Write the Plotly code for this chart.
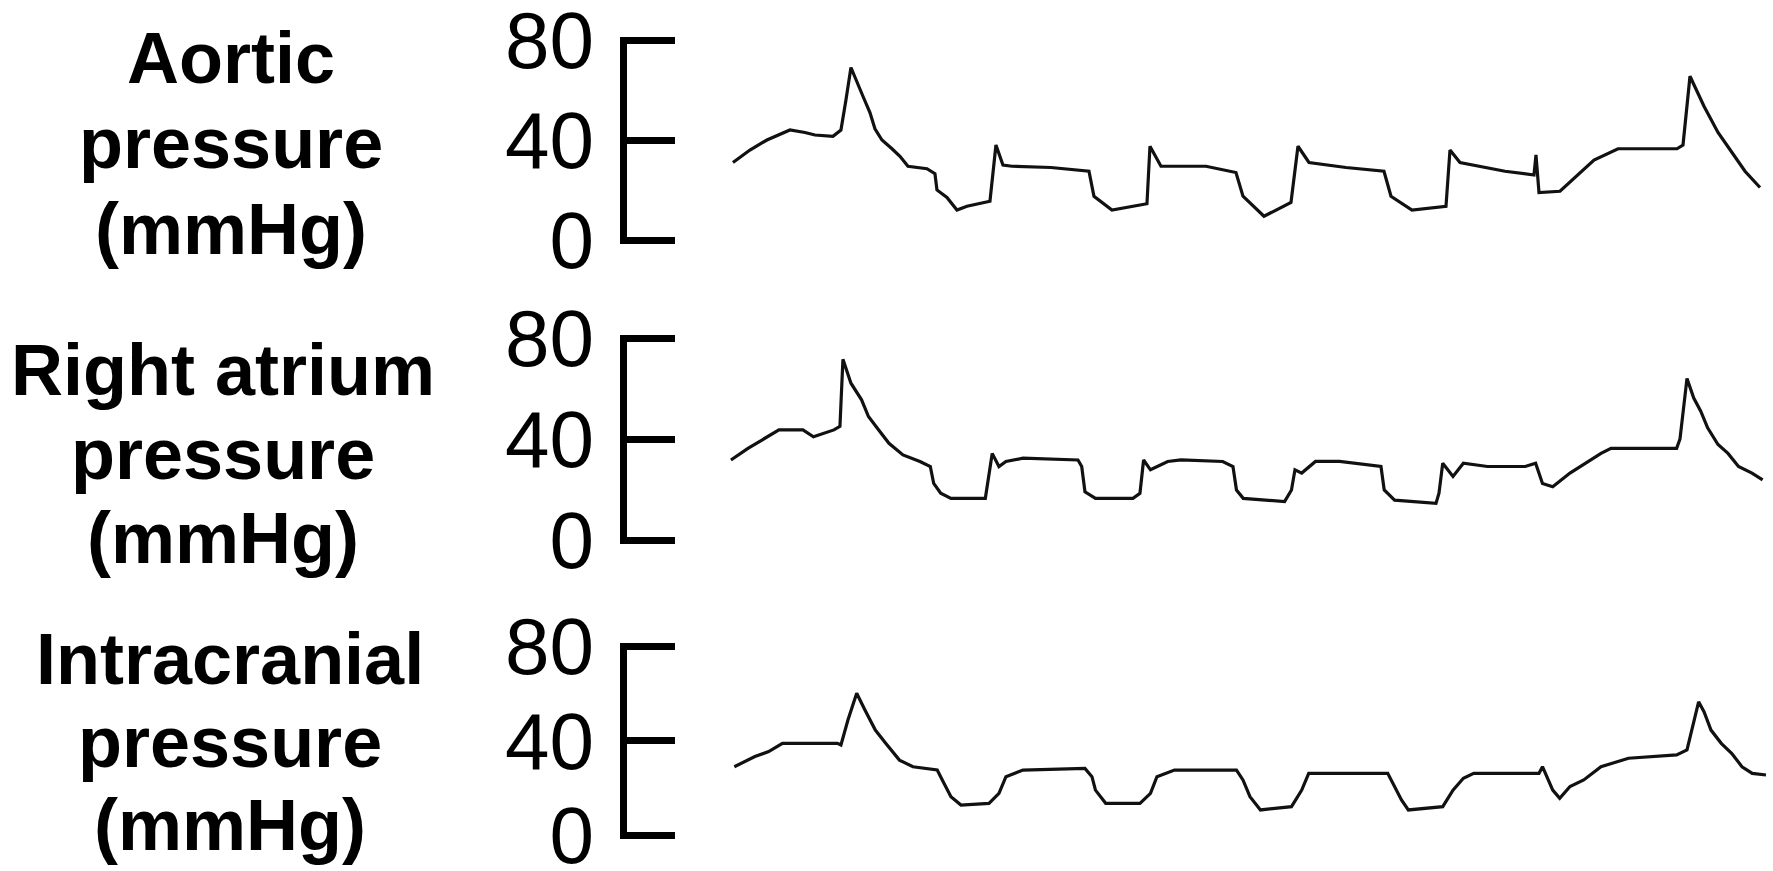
import plotly.graph_objects as go

# ---------------- data ----------------
tick_vals = [0, 40, 80]
tick_text = ["0", "40", "80"]

panel_titles = [
    ["Aortic", "pressure", "(mmHg)"],
    ["Right atrium", "pressure", "(mmHg)"],
    ["Intracranial", "pressure", "(mmHg)"],
]

# time (s) and pressure (mmHg)
aortic_t = [0.000, 0.136, 0.272, 0.360, 0.456, 0.576, 0.656, 0.800, 0.864, 0.904,
            0.944, 1.040, 1.096, 1.136, 1.192, 1.272, 1.336, 1.400, 1.552, 1.616,
            1.632, 1.712, 1.792, 1.872, 2.056, 2.104, 2.160, 2.232, 2.544, 2.848,
            2.888, 3.032, 3.312, 3.336, 3.424, 3.784, 4.024, 4.080, 4.248, 4.464,
            4.520, 4.608, 4.904, 5.208, 5.264, 5.432, 5.704, 5.736, 5.816, 6.176,
            6.408, 6.424, 6.448, 6.616, 6.888, 7.080, 7.552, 7.600, 7.656, 7.768,
            7.880, 7.992, 8.096, 8.216]
aortic_p = [31, 36, 40, 42, 44, 43, 42, 41.5, 44, 56,
            69, 57.5, 51, 44.5, 40, 36.5, 33.5, 29.5, 28.5, 26.5,
            20, 17, 12, 13.5, 15.5, 38, 30, 29.5, 29, 27.5,
            17.5, 12, 14.5, 37.5, 29.5, 29.5, 27, 17.5, 9.5, 15,
            37.5, 31, 29, 27.5, 17.5, 12, 13.5, 36, 31, 27.5,
            26, 34, 19, 19.5, 32, 36.5, 36.5, 38, 65.5, 53.5,
            43, 35, 27.5, 21]

ra_t = [-0.016, 0.120, 0.232, 0.368, 0.560, 0.644, 0.808, 0.856, 0.880, 0.944,
        1.029, 1.084, 1.166, 1.248, 1.360, 1.496, 1.579, 1.606, 1.662, 1.744,
        2.019, 2.074, 2.128, 2.184, 2.320, 2.760, 2.790, 2.816, 2.900, 3.200,
        3.256, 3.285, 3.340, 3.478, 3.584, 3.918, 4.000, 4.028, 4.082, 4.413,
        4.468, 4.496, 4.550, 4.660, 4.853, 5.184, 5.210, 5.293, 5.624, 5.648,
        5.678, 5.760, 5.843, 6.036, 6.338, 6.421, 6.476, 6.558, 6.696, 6.806,
        6.944, 7.024, 7.549, 7.576, 7.632, 7.686, 7.742, 7.797, 7.880, 7.960,
        8.044, 8.152, 8.237]
ra_p = [31.7, 36.3, 39.6, 43.6, 43.6, 40.9, 43.6, 45.0, 71.6, 62.1,
        55.5, 48.9, 43.6, 38.3, 33.7, 31.1, 29.1, 22.4, 18.5, 16.5,
        16.5, 34.3, 29.1, 31.1, 32.4, 31.7, 29.1, 19.1, 16.5, 16.5,
        18.5, 31.7, 27.8, 31.1, 31.7, 31.1, 29.1, 19.8, 16.5, 15.2,
        19.8, 27.8, 26.5, 31.1, 31.1, 29.1, 19.8, 15.8, 14.5, 18.5,
        30.4, 25.2, 30.4, 29.1, 29.1, 30.4, 22.4, 21.1, 26.5, 29.8,
        34.3, 36.3, 36.3, 40.0, 64.0, 56.2, 51.0, 44.4, 37.8, 34.3,
        29.1, 26.5, 23.8]

icp_t = [0.011, 0.176, 0.286, 0.396, 0.836, 0.864, 0.920, 0.990, 1.056, 1.139,
         1.222, 1.332, 1.440, 1.634, 1.688, 1.744, 1.824, 2.048, 2.128, 2.184,
         2.320, 2.816, 2.872, 2.900, 2.982, 3.256, 3.340, 3.392, 3.532, 4.028,
         4.080, 4.136, 4.220, 4.468, 4.550, 4.606, 5.238, 5.293, 5.348, 5.403,
         5.678, 5.760, 5.843, 5.926, 6.448, 6.476, 6.558, 6.614, 6.696, 6.806,
         6.944, 7.164, 7.549, 7.632, 7.686, 7.725, 7.768, 7.824, 7.906, 7.989,
         8.072, 8.154, 8.264]
icp_p = [28.9, 33.2, 35.3, 38.8, 38.8, 38.1, 48.7, 60.0, 52.9, 44.4,
         38.8, 31.7, 28.9, 27.5, 21.9, 16.2, 12.7, 13.4, 17.6, 24.7,
         27.5, 28.2, 24.7, 19.0, 13.4, 13.4, 17.6, 24.7, 27.5, 27.5,
         23.3, 16.2, 10.6, 12.0, 19.0, 26.1, 26.1, 20.5, 14.8, 10.6,
         12.0, 19.0, 24.0, 26.1, 26.1, 28.9, 19.0, 15.5, 20.5, 23.3,
         28.9, 32.5, 33.9, 36.0, 47.3, 56.4, 52.2, 44.4, 38.8, 34.6,
         28.9, 26.1, 25.4]

series = [(aortic_t, aortic_p), (ra_t, ra_p), (icp_t, icp_p)]

# ---------------- layout constants ----------------
W, H = 1773, 871
x_domain = [0.3536, 1.0]
x_range = [-0.848, 8.32]
# pixel rows (from top) where 80 and 0 mmHg sit in each panel
y_px = [(40, 240), (338, 540), (646, 835)]
pad_px = 3.5          # extend axis so the bracket corners close
title_x = [230.5, 223, 230]            # px, centre of label block
title_mid = [[58, 143, 229], [370, 454, 538], [659, 742, 825]]  # px from top

fig = go.Figure()
for i, (t, p) in enumerate(series):
    sfx = "" if i == 0 else str(i + 1)
    top, bot = y_px[i]
    per = (bot - top) / 80.0
    pad = pad_px / per
    dom = [1 - (bot + pad_px) / H, 1 - (top - pad_px) / H]
    fig.add_trace(go.Scatter(
        x=t, y=p, mode="lines",
        line=dict(color="#111111", width=3.2),
        xaxis="x" + sfx, yaxis="y" + sfx, showlegend=False, hoverinfo="skip"))
    fig.layout["xaxis" + sfx] = dict(
        domain=x_domain, range=x_range, visible=False, anchor="y" + sfx,
        automargin=False)
    fig.layout["yaxis" + sfx] = dict(
        domain=dom, range=[-pad, 80 + pad], anchor="x" + sfx, automargin=False,
        tickmode="array", tickvals=tick_vals, ticktext=tick_text,
        ticks="inside", ticklen=48, tickwidth=7, tickcolor="black",
        showline=True, linewidth=7, linecolor="black",
        showgrid=False, zeroline=False, ticklabelstandoff=10,
        ticklabeloverflow="allow",
        tickfont=dict(family="Liberation Sans, Arial", size=80, color="black"))
    for j, line in enumerate(panel_titles[i]):
        fig.add_annotation(
            text=line, xref="paper", yref="paper",
            x=title_x[i] / W, y=1 - title_mid[i][j] / H,
            xanchor="center", yanchor="middle", showarrow=False,
            font=dict(family="Liberation Sans, Arial", size=72, color="black",
                      weight="bold"))

fig.update_layout(
    width=W, height=H, margin=dict(l=0, r=0, t=0, b=0, autoexpand=False),
    paper_bgcolor="white", plot_bgcolor="white")

fig.write_html("out.html")
